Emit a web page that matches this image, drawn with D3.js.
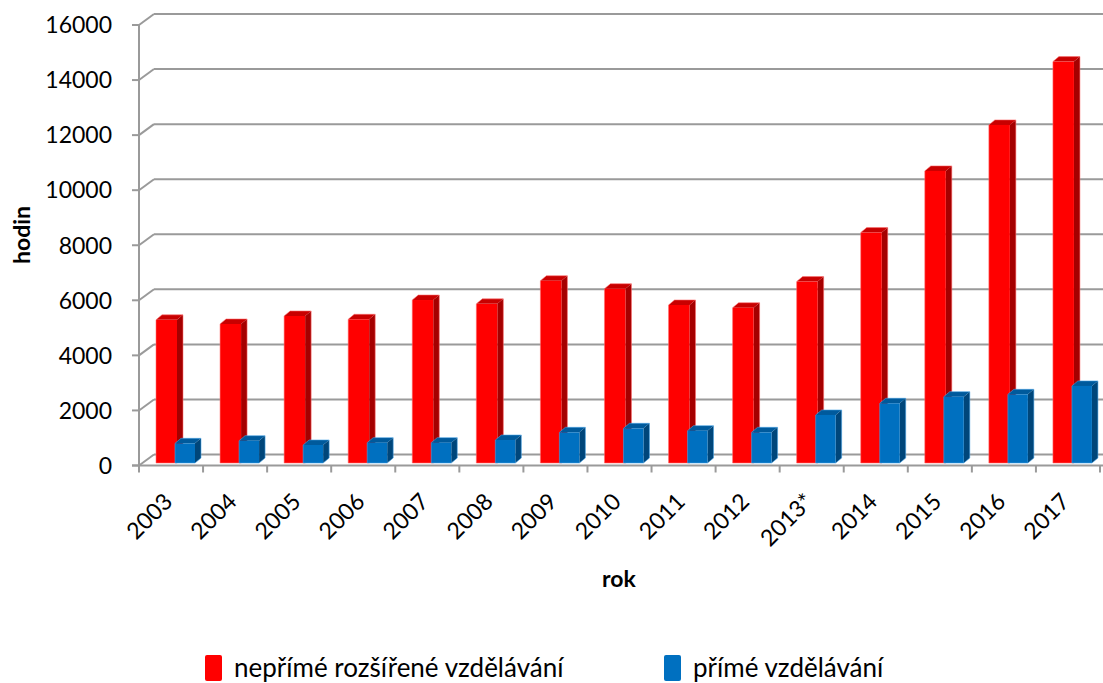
<!DOCTYPE html>
<html><head><meta charset="utf-8">
<script src="https://cdn.jsdelivr.net/npm/d3@7"></script>
<style>html,body{margin:0;padding:0;background:#fff;}svg{display:block;font-family:Lato,"Open Sans",sans-serif;}</style>
</head><body><svg id="c" width="1103" height="683"></svg>
<script>
const years = ["2003","2004","2005","2006","2007","2008","2009","2010","2011","2012","2013*","2014","2015","2016","2017"];
const nepryme = [5200,5050,5340,5220,5920,5780,6620,6330,5740,5640,6590,8370,10610,12280,14580];
const prime = [715,810,655,740,740,835,1115,1260,1175,1115,1745,2170,2410,2495,2800];
const yTicks = [0,2000,4000,6000,8000,10000,12000,14000,16000];
const seriesNames = ["nepřímé rozšířené vzdělávání","přímé vzdělávání"];

const svg = d3.select("#c");
const X0 = 139, X1 = 1100, W = 1103;
const DX = 15, DY = -11; // wall depth
const x = d3.scaleBand().domain(years).range([X0, X1]).padding(0);
const y = d3.scaleLinear().domain([0,16000]).range([465.5, 25]);
const grid = "#9a9a9a";

const g = svg.append("g");
yTicks.forEach(t => {
  const yy = y(t);
  g.append("line").attr("x1",X0).attr("y1",yy).attr("x2",X0+DX).attr("y2",yy+DY).attr("stroke",grid).attr("stroke-width",2);
  g.append("line").attr("x1",X0+DX).attr("y1",yy+DY).attr("x2",W).attr("y2",yy+DY).attr("stroke",grid).attr("stroke-width",2);
  g.append("line").attr("x1",X0-7).attr("y1",yy).attr("x2",X0).attr("y2",yy).attr("stroke",grid).attr("stroke-width",2);
  g.append("text").attr("x",112).attr("y",yy).attr("dy","0.36em").attr("text-anchor","end")
    .attr("font-size",23).attr("fill","#000").text(t);
});
g.append("line").attr("x1",X0).attr("y1",y(16000)).attr("x2",X0).attr("y2",y(0)).attr("stroke",grid).attr("stroke-width",2);
g.append("line").attr("x1",X0-7).attr("y1",y(0)).attr("x2",W).attr("y2",y(0)).attr("stroke",grid).attr("stroke-width",2);
d3.range(years.length+1).forEach(i => {
  const xx = X0 + i*x.bandwidth();
  g.append("line").attr("x1",xx).attr("y1",y(0)).attr("x2",xx).attr("y2",y(0)+7).attr("stroke",grid).attr("stroke-width",2);
});

const BD = 6, BH = -5;
const base = y(0) - 2.5;
function bar(px, w, v, cFront, cSide, cTop, cEdge) {
  const top = base - (y(0) - y(v));
  const gg = svg.append("g");
  gg.append("polygon").attr("points",[[px+w,top],[px+w+BD,top+BH],[px+w+BD,base+BH],[px+w,base]].join(" ")).attr("fill",cSide);
  gg.append("polygon").attr("points",[[px,top],[px+BD,top+BH],[px+w+BD,top+BH],[px+w,top]].join(" ")).attr("fill",cTop);
  gg.append("rect").attr("x",px).attr("y",top).attr("width",w).attr("height",base-top).attr("fill",cFront);
  gg.append("polygon").attr("points",[[px,base],[px,top],[px+BD,top+BH],[px+w+BD,top+BH],[px+w+BD,base+BH],[px+w,base]].join(" "))
    .attr("fill","none").attr("stroke",cEdge).attr("stroke-width",0.8).attr("stroke-opacity",0.7);
}
years.forEach((d,i) => {
  const bx = x(d);
  bar(bx+17, 21, nepryme[i], "#ff0000", "#a50000", "#c80000", "#ff7070");
  bar(bx+36, 20, prime[i], "#0070c0", "#00467a", "#005a9c", "#4aa6e8");
});

years.forEach(d => {
  const cx = x(d) + x.bandwidth()/2 + 3;
  svg.append("text").attr("transform",`translate(${cx},${503}) rotate(-45)`).attr("text-anchor","end")
    .attr("font-size",23).attr("fill","#000").text(d);
});

svg.append("text").attr("transform","translate(30,235) rotate(-90)").attr("text-anchor","middle")
  .attr("font-size",23).attr("font-weight","bold").text("hodin");
svg.append("text").attr("x",619).attr("y",587).attr("text-anchor","middle")
  .attr("font-size",23).attr("font-weight","bold").text("rok");

const leg = [{c:"#ff0000",x:205,t:seriesNames[0]},{c:"#0070c0",x:664,t:seriesNames[1]}];
leg.forEach(l => {
  svg.append("rect").attr("x",l.x).attr("y",655).attr("width",17).attr("height",26).attr("rx",2).attr("fill",l.c);
  svg.append("text").attr("x",l.x+29).attr("y",668).attr("dy","0.36em").attr("font-size",26).text(l.t);
});
</script></body></html>
